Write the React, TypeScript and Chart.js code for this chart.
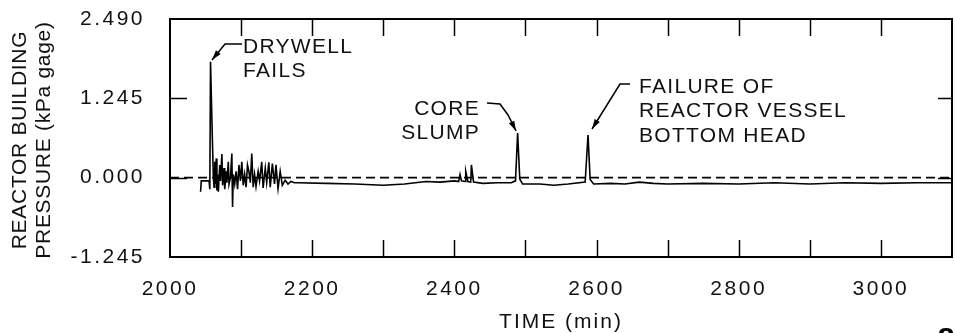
import React, { useEffect, useRef } from 'react';
import { Chart, registerables } from 'chart.js';

Chart.register(...registerables);

// ---- data (time in minutes, pressure in kPa gage) ----
const timeMin = [
  2043, 2044, 2055, 2056, 2057, 2059.5, 2061,
  2062, 2063, 2064, 2065, 2066, 2067, 2068, 2070, 2071, 2073, 2074, 2076, 2077, 2079, 2080,
  2082, 2083, 2085, 2087, 2088, 2089, 2091, 2093, 2095, 2097, 2099, 2101, 2103, 2105, 2107,
  2109, 2111, 2113, 2115, 2117, 2119, 2121, 2124, 2126, 2129, 2131, 2134, 2136, 2139, 2141,
  2144, 2147, 2149, 2152, 2155, 2158, 2162, 2166, 2170, 2175,
  2180, 2220, 2260, 2300, 2330, 2360, 2380, 2400, 2406, 2408, 2410, 2415, 2416, 2419, 2423,
  2424, 2427, 2440, 2460, 2480, 2486, 2489, 2492, 2496, 2520, 2540, 2560, 2584, 2588, 2591,
  2596, 2620, 2640, 2660, 2680, 2700, 2750, 2800, 2850, 2900, 2950, 3000, 3050, 3100,
];
const pressureKPa = [
  -0.22, -0.05, -0.05, -0.18, 1.82, 0.65, 0.0,
  -0.15, 0.25, -0.1, 0.3, -0.2, 0.05, -0.22, 0.2, -0.05, 0.37, -0.12, 0.15, -0.18, 0.1, -0.08,
  0.25, -0.1, 0.0, 0.38, -0.46, 0.05, -0.1, 0.1, -0.18, 0.2, -0.05, 0.25, -0.12, 0.05, -0.15,
  0.2, 0.1, -0.08, 0.38, -0.15, 0.05, -0.14, 0.1, -0.05, 0.25, -0.16, 0.15, -0.08, 0.24, -0.15,
  0.22, -0.1, 0.2, -0.17, 0.1, -0.12, -0.04, -0.1, -0.06, -0.08,
  -0.08, -0.09, -0.1, -0.12, -0.1, -0.06, -0.07, -0.05, -0.06, 0.05, -0.05, -0.06, 0.1, -0.06, -0.07,
  0.2, -0.07, -0.09, -0.08, -0.08, -0.05, 0.7, -0.02, -0.1, -0.1, -0.12, -0.1, -0.07, 0.67, -0.03,
  -0.1, -0.09, -0.1, -0.07, -0.09, -0.1, -0.09, -0.1, -0.08, -0.1, -0.08, -0.09, -0.08, -0.08,
];
const zeroLineTimes = [2000, 3100];
const zeroLineValues = [0, 0];

// ---- axes ----
const xMin = 2000;
const xMax = 3100;
const xTickValues = [2000, 2100, 2200, 2300, 2400, 2500, 2600, 2700, 2800, 2900, 3000, 3100];
const xLabelValues = [2000, 2200, 2400, 2600, 2800, 3000];
const xInnerTicks = [2100, 2200, 2300, 2400, 2500, 2600, 2700, 2800, 2900, 3000];
const yMin = -1.245;
const yMax = 2.49;
const yTickValues = [-1.245, 0, 1.245, 2.49];
const yInnerTicks = [0, 1.245];
const xTitle = 'TIME (min)';
const yTitleLines = ['REACTOR BUILDING', 'PRESSURE (kPa gage)'];

// ---- annotations (anchors in data units) ----
const noteTexts = [
  ['DRYWELL', 'FAILS'],
  ['CORE', 'SLUMP'],
  ['FAILURE OF', 'REACTOR VESSEL', 'BOTTOM HEAD'],
];
const noteAnchorsT = [2102.7, 2436.1, 2659.7];
const noteAnchorsV = [1.957, 0.984, 1.329];
const noteAlign = ['left', 'right', 'left'];
const leaderT = [
  [2101.3, 2077.4, 2059.1],
  [2445.9, 2464.2, 2475.5, 2486.7],
  [2647.1, 2633.0, 2593.6],
];
const leaderV = [
  [2.098, 2.098, 1.847],
  [1.172, 1.157, 0.984, 0.733],
  [1.47, 1.47, 0.764],
];

const FONT = '"Liberation Sans", Arial, Helvetica, sans-serif';

const decorPlugin = {
  id: 'decor',
  beforeDraw(chart: any) {
    (chart.ctx as any).letterSpacing = '2.5px';
  },
  afterDraw(chart: any) {
    const { ctx, chartArea: a, scales } = chart;
    const x = scales.x;
    const y = scales.y;
    ctx.save();
    (ctx as any).letterSpacing = '0px';
    ctx.strokeStyle = '#000';
    ctx.lineWidth = 2;
    ctx.strokeRect(a.left, a.top, a.right - a.left, a.bottom - a.top);

    ctx.lineWidth = 1.5;
    ctx.beginPath();
    for (const t of xInnerTicks) {
      const px = Math.round(x.getPixelForValue(t)) + 0.5;
      ctx.moveTo(px, a.bottom);
      ctx.lineTo(px, a.bottom - 17);
      ctx.moveTo(px, a.top);
      ctx.lineTo(px, a.top + 17);
    }
    for (const v of yInnerTicks) {
      const py = Math.round(y.getPixelForValue(v)) + 0.5;
      ctx.moveTo(a.left, py);
      ctx.lineTo(a.left + 17, py);
      ctx.moveTo(a.right, py);
      ctx.lineTo(a.right - 14, py);
    }
    ctx.stroke();

    ctx.fillStyle = '#111';
    // axis titles
    ctx.font = `21px ${FONT}`;
    (ctx as any).letterSpacing = '2px';
    ctx.textAlign = 'center';
    ctx.textBaseline = 'alphabetic';
    ctx.fillText(xTitle, (a.left + a.right) / 2, 328);

    (ctx as any).letterSpacing = '0.7px';
    const cy = (a.top + a.bottom) / 2 + 2;
    const titleXs = [26, 50];
    yTitleLines.forEach((line, i) => {
      ctx.save();
      ctx.translate(titleXs[i], cy);
      ctx.rotate(-Math.PI / 2);
      ctx.textAlign = 'center';
      ctx.textBaseline = 'alphabetic';
      ctx.fillText(line, 0, 0);
      ctx.restore();
    });

    // annotations
    (ctx as any).letterSpacing = '1.3px';
    ctx.font = `21px ${FONT}`;
    ctx.textBaseline = 'alphabetic';
    noteTexts.forEach((lines, i) => {
      const px = x.getPixelForValue(noteAnchorsT[i]);
      const py = y.getPixelForValue(noteAnchorsV[i]);
      ctx.textAlign = noteAlign[i] as CanvasTextAlign;
      lines.forEach((line, j) => {
        ctx.fillText(line, px, py + j * 24.5);
      });
    });

    // leaders with arrowheads
    ctx.lineWidth = 1.5;
    ctx.strokeStyle = '#000';
    leaderT.forEach((ts, i) => {
      const pts = ts.map((t, j) => [x.getPixelForValue(t), y.getPixelForValue(leaderV[i][j])]);
      ctx.beginPath();
      ctx.moveTo(pts[0][0], pts[0][1]);
      for (let j = 1; j < pts.length; j++) ctx.lineTo(pts[j][0], pts[j][1]);
      ctx.stroke();
      const tip = pts[pts.length - 1];
      const prev = pts[pts.length - 2];
      const ang = Math.atan2(tip[1] - prev[1], tip[0] - prev[0]);
      const L = 10;
      const W = 3;
      ctx.beginPath();
      ctx.moveTo(tip[0], tip[1]);
      ctx.lineTo(tip[0] - L * Math.cos(ang) - W * Math.sin(ang), tip[1] - L * Math.sin(ang) + W * Math.cos(ang));
      ctx.lineTo(tip[0] - L * Math.cos(ang) + W * Math.sin(ang), tip[1] - L * Math.sin(ang) - W * Math.cos(ang));
      ctx.closePath();
      ctx.fillStyle = '#000';
      ctx.fill();
    });

    // figure number fragment at bottom-right
    (ctx as any).letterSpacing = '0px';
    ctx.font = `bold 30px ${FONT}`;
    ctx.textAlign = 'center';
    ctx.textBaseline = 'top';
    ctx.fillStyle = '#000';
    ctx.fillText('8', 946, 325);

    ctx.restore();
    (ctx as any).letterSpacing = '0px';
  },
};

export default function App() {
  const canvasRef = useRef<HTMLCanvasElement | null>(null);

  useEffect(() => {
    const canvas = canvasRef.current;
    if (!canvas) return;
    document.body.style.margin = '0';
    const chart = new Chart(canvas, {
      type: 'line',
      data: {
        datasets: [
          {
            data: timeMin.map((t, i) => ({ x: t, y: pressureKPa[i] })),
            borderColor: '#000',
            borderWidth: 1.6,
            pointRadius: 0,
            tension: 0,
            fill: false,
            order: 0,
          },
          {
            data: zeroLineTimes.map((t, i) => ({ x: t, y: zeroLineValues[i] })),
            borderColor: '#000',
            borderWidth: 1.6,
            borderDash: [9, 5],
            pointRadius: 0,
            fill: false,
            order: 1,
          },
        ],
      },
      options: {
        responsive: false,
        maintainAspectRatio: false,
        animation: false,
        events: [],
        layout: { padding: { top: 19, right: 3, left: 0, bottom: 0 } },
        plugins: { legend: { display: false }, tooltip: { enabled: false } },
        scales: {
          x: {
            type: 'linear',
            min: xMin,
            max: xMax,
            grid: { display: false },
            border: { display: false },
            afterBuildTicks: (s: any) => {
              s.ticks = xTickValues.map((v) => ({ value: v }));
            },
            afterFit: (s: any) => {
              s.height = 76;
              s.paddingLeft = 0;
              s.paddingRight = 0;
              s.paddingTop = 0;
              s.paddingBottom = 0;
            },
            ticks: {
              autoSkip: false,
              maxRotation: 0,
              padding: 12,
              color: '#111',
              font: { family: FONT, size: 21 },
              callback: (v: any) => (xLabelValues.includes(Number(v)) ? String(v) : ''),
            },
          },
          y: {
            type: 'linear',
            min: yMin,
            max: yMax,
            grid: { display: false },
            border: { display: false },
            afterBuildTicks: (s: any) => {
              s.ticks = yTickValues.map((v) => ({ value: v }));
            },
            afterFit: (s: any) => {
              s.width = 170;
              s.paddingLeft = 0;
              s.paddingRight = 0;
              s.paddingTop = 0;
              s.paddingBottom = 0;
            },
            ticks: {
              autoSkip: false,
              padding: 17,
              color: '#111',
              font: { family: FONT, size: 21 },
              callback: (v: any) => Number(v).toFixed(3),
            },
          },
        },
      },
      plugins: [decorPlugin],
    });
    return () => chart.destroy();
  }, []);

  return (
    <div style={{ position: 'absolute', left: 0, top: 0, width: 955, height: 333, background: '#fff', overflow: 'hidden' }}>
      <canvas ref={canvasRef} width={955} height={333} style={{ display: 'block' }} />
    </div>
  );
}
